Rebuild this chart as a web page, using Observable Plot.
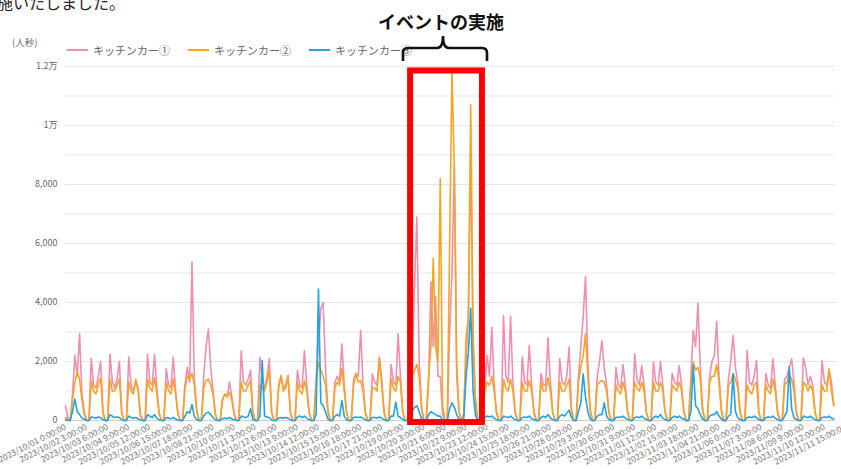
<!DOCTYPE html>
<html><head><meta charset="utf-8">
<script src="https://cdn.jsdelivr.net/npm/d3@7"></script>
<script src="https://cdn.jsdelivr.net/npm/@observablehq/plot@0.6"></script>
<style>
body{margin:0;background:#fff;font-family:"Noto Sans CJK JP","Noto Sans",sans-serif;}
#wrap{position:relative;width:841px;height:469px;overflow:hidden;background:#fff;}
#chart{position:absolute;left:0;top:0;}
.ov{position:absolute;white-space:nowrap;line-height:1;}
#legend{position:absolute;left:67px;top:43px;display:flex;gap:18px;font-size:11px;color:#666;line-height:14px;}
#legend .item{display:flex;align-items:center;gap:5px;}
#legend .sw{width:21px;height:2px;display:inline-block;}
</style></head><body>
<div id="wrap">
  <div id="chart"></div>
  <div class="ov" style="left:-3px;top:-6px;font-size:16px;color:#222;">施いたしました。</div>
  <div class="ov" style="left:12px;top:38px;font-size:9.5px;color:#666;">(人秒)</div>
  <div id="legend"></div>
  <div class="ov" id="title" style="left:378px;top:12px;font-size:18px;font-weight:bold;color:#111;">イベントの実施</div>
  <svg class="ov" style="left:0;top:0" width="841" height="80">
    <path d="M403,61 L403,53 Q403,48 408,48 L437,48 Q443,48 443,36 Q443,48 449,48 L482,48 Q487,48 487,53 L487,61" fill="none" stroke="#111" stroke-width="2.6"/>
  </svg>
</div>
<script>
// ---- data (3-hour samples from 2023/10/01 0:00, values in 人秒) ----
const seriesNames = ["キッチンカー①", "キッチンカー②", "キッチンカー③"];
const seriesColors = ["#f18db0", "#f7a520", "#22a4e0"];

const car1 = [
 500,100,0,900,2200,1500,2950,900,
 300,0,0,2100,1200,1100,1500,2000,
 300,0,0,2250,1300,1100,1400,2000,
 300,0,0,2150,1200,1000,1300,1100,
 200,0,0,2250,1300,1200,2250,1100,
 250,0,0,1750,1200,1100,2150,1000,
 250,0,0,1200,1800,1300,5370,1400,
 400,0,0,1500,2500,3100,1800,1000,
 200,0,0,700,900,800,1300,800,
 250,0,0,2350,1300,1200,1400,1700,
 300,0,0,2150,1400,1100,1500,2100,
 300,0,0,1200,1530,1100,1200,1530,
 300,0,0,1700,1200,1100,2370,1200,
 300,0,0,1500,2500,3800,4000,1800,
 400,0,0,1300,1500,1300,2600,1200,
 300,0,0,1400,1600,1500,3050,1300,
 300,0,0,1580,1300,1200,2150,1400,
 300,0,0,1900,1300,1200,2940,1500,
 300,0,0,1500,1800,4600,6900,2000,
 500,0,0,1200,4700,2500,4200,1500,
 1500,200,0,0,3000,5000,8600,1500,
 300,0,200,2000,3500,9200,2500,600,
 0,0,0,1200,2200,1500,3160,1200,
 300,0,0,3560,1500,1300,3540,1300,
 300,0,0,2150,1300,1200,2540,1200,
 300,0,0,1600,1200,1200,2800,1300,
 300,0,0,2090,1300,1200,1500,2490,
 400,0,0,1500,2500,3500,4880,2000,
 400,0,0,1500,2000,2700,1800,1200,
 300,0,0,1800,1200,1100,1900,1200,
 300,0,0,2260,1400,1200,1860,1200,
 300,0,0,1980,1300,1200,2000,1200,
 300,0,0,1600,1300,1200,1860,1200,
 300,0,0,1500,3050,2500,3980,1800,
 400,0,0,1500,2000,2200,3360,1500,
 400,0,0,1400,2000,2880,1800,1300,
 300,0,0,2370,1300,1200,1500,2030,
 300,0,0,1600,1200,1100,2090,1200,
 300,0,0,1400,1500,1800,2090,1300,
 300,0,0,2120,1800,1200,1500,1200,
 300,0,0,2030,1300,1200,1700,1300,
 500
];
const car2 = [
 100,50,0,700,1300,1650,1400,700,
 200,0,0,1350,1000,900,1200,1450,
 250,0,0,1400,1000,1000,1200,1400,
 250,0,0,1300,1000,900,1400,1000,
 150,0,0,1400,1100,1000,1450,900,
 200,0,0,1300,1000,900,1400,900,
 200,0,0,1100,1500,1400,1600,1200,
 300,0,0,1100,1350,1400,1200,900,
 200,0,0,700,900,800,950,700,
 200,0,0,1300,1000,1000,1200,1350,
 200,0,0,1200,1100,1000,1300,1700,
 250,0,0,1100,1500,1000,1100,1500,
 250,0,0,1300,1000,900,1350,1000,
 250,0,0,1200,1980,1700,1500,1200,
 300,0,0,1100,1300,1200,1750,1000,
 250,0,0,1200,1580,1300,1360,1000,
 250,0,0,1100,1100,1000,2100,1200,
 250,0,0,1400,1100,1000,1500,1300,
 250,0,0,1200,1500,1700,1900,1500,
 400,0,0,1500,2500,5500,2500,2000,
 8200,500,0,0,6000,11900,8500,2000,
 300,0,200,2800,3500,10700,3000,800,
 0,0,0,1000,1300,1200,1500,1000,
 250,0,0,1400,1100,1000,1400,1000,
 250,0,0,1300,1000,1000,1350,1000,
 250,0,0,1300,1000,1000,1450,1000,
 250,0,0,1300,1000,1000,1200,1400,
 300,0,0,1300,1800,2200,2940,1500,
 300,0,0,1200,1300,1360,1300,1000,
 250,0,0,1200,1000,900,1300,1000,
 250,0,0,1300,1100,1000,1300,1000,
 250,0,0,1300,1000,1000,1300,1000,
 250,0,0,1200,1100,1000,1300,1000,
 300,0,0,1300,1980,1700,1800,1400,
 300,0,0,1300,1500,1500,1900,1300,
 300,0,0,1200,1300,1580,1400,1100,
 250,0,0,1200,1000,900,1200,1300,
 250,0,0,1200,1000,900,1400,1000,
 250,0,0,1200,1300,1580,1400,1000,
 250,0,0,1300,1200,1000,1200,1000,
 250,0,0,1200,1000,1000,1750,1000,
 500
];
const car3 = [
 30,0,0,300,730,300,200,80,
 40,0,0,120,100,80,120,100,
 30,0,0,200,150,100,120,100,
 20,0,0,150,100,80,100,60,
 20,0,0,200,150,100,200,80,
 20,0,0,100,80,60,100,50,
 20,0,0,150,300,250,540,150,
 30,0,0,150,250,280,200,100,
 20,0,0,60,80,60,100,50,
 30,0,0,150,120,100,150,400,
 30,0,0,150,2030,150,120,100,
 20,0,0,80,100,80,100,80,
 20,0,0,120,150,100,150,80,
 30,0,0,200,4460,600,500,300,
 50,0,0,150,200,150,680,150,
 20,0,0,100,120,100,120,80,
 20,0,0,100,100,80,120,80,
 30,0,0,150,150,620,150,100,
 30,0,0,200,300,450,500,300,
 60,0,0,200,300,250,200,150,
 150,0,0,0,400,600,450,200,
 50,0,50,1500,2300,3800,1000,200,
 0,0,0,100,150,120,150,80,
 30,0,0,150,120,100,150,80,
 30,0,0,100,120,100,150,60,
 30,0,0,100,150,100,200,80,
 30,0,0,150,200,150,250,350,
 100,0,0,300,600,1580,800,300,
 50,0,0,150,200,200,600,150,
 30,0,0,100,120,100,150,80,
 30,0,0,100,120,100,150,80,
 30,0,0,100,150,100,200,80,
 30,0,0,100,150,100,150,80,
 50,0,0,300,1860,500,400,200,
 50,0,0,150,200,200,300,150,
 50,0,0,150,200,1580,300,100,
 30,0,0,100,120,100,150,100,
 30,0,0,100,120,100,150,80,
 30,0,0,150,300,1830,400,100,
 30,0,0,150,120,100,150,80,
 30,0,0,100,120,100,150,80,
 50
];
const stepHours = 3;

const xTickLabels = [
 "2023/10/01 0:00:00","2023/10/02 3:00:00","2023/10/03 6:00:00","2023/10/04 9:00:00",
 "2023/10/05 12:00:00","2023/10/06 15:00:00","2023/10/07 18:00:00","2023/10/08 21:00:00",
 "2023/10/10 0:00:00","2023/10/11 3:00:00","2023/10/12 6:00:00","2023/10/13 9:00:00",
 "2023/10/14 12:00:00","2023/10/15 15:00:00","2023/10/16 18:00:00","2023/10/17 21:00:00",
 "2023/10/19 0:00:00","2023/10/20 3:00:00","2023/10/21 6:00:00","2023/10/22 9:00:00",
 "2023/10/23 12:00:00","2023/10/24 15:00:00","2023/10/25 18:00:00","2023/10/26 21:00:00",
 "2023/10/28 0:00:00","2023/10/29 3:00:00","2023/10/30 6:00:00","2023/10/31 9:00:00",
 "2023/11/01 12:00:00","2023/11/02 15:00:00","2023/11/03 18:00:00","2023/11/04 21:00:00",
 "2023/11/06 0:00:00","2023/11/07 3:00:00","2023/11/08 6:00:00","2023/11/09 9:00:00",
 "2023/11/10 12:00:00","2023/11/11 15:00:00"
];
const xTickEvery = 27; // hours between labels
const yTicks = [0, 2000, 4000, 6000, 8000, 10000, 12000];
const yTickLabels = ["0", "2,000", "4,000", "6,000", "8,000", "1万", "1.2万"];
const yGrid = [0,1000,2000,3000,4000,5000,6000,7000,8000,9000,10000,11000,12000];
// event window (hours from start) and the box around it
const eventBox = {start: 442, end: 534, bottom: -70, top: 11850};

// ---- build ----
const toRows = vals => vals.map((v, i) => ({hour: i * stepHours, value: v}));
const rows = [car1, car2, car3].map(toRows);
const lastHour = (car1.length - 1) * stepHours;
const tickHours = xTickLabels.map((_, i) => i * xTickEvery);
const xLabelOf = new Map(tickHours.map((h, i) => [h, xTickLabels[i]]));
const yLabelOf = new Map(yTicks.map((v, i) => [v, yTickLabels[i]]));

const legend = document.getElementById("legend");
seriesNames.forEach((n, i) => {
  const it = document.createElement("div");
  it.className = "item";
  it.innerHTML = `<span class="sw" style="background:${seriesColors[i]}"></span><span>${n}</span>`;
  legend.appendChild(it);
});

const chart = Plot.plot({
  width: 841, height: 469,
  marginLeft: 65, marginRight: 0, marginTop: 66, marginBottom: 49,
  style: {fontFamily: '"Noto Sans CJK JP","Noto Sans",sans-serif', background: "transparent", overflow: "visible"},
  x: {type: "linear", domain: [0, tickHours[tickHours.length - 1]], range: [65, 845]},
  y: {domain: [0, 12000], range: [420, 66]},
  marks: [
    Plot.ruleY(yGrid, {y: d => d, x1: () => 0, x2: () => lastHour + 2, stroke: d => d === 0 ? "#cfcfcf" : "#e6e6e6", strokeWidth: 1}),
    ...rows.map((r, i) => Plot.line(r, {x: "hour", y: "value", stroke: seriesColors[i], strokeWidth: 1.6, strokeLinejoin: "round"})),
    Plot.rect([eventBox], {x1: "start", x2: "end", y1: "bottom", y2: "top", fill: "none", stroke: "#ff0000", strokeWidth: 6}),
    Plot.axisX({ticks: tickHours, tickFormat: h => xLabelOf.get(h), tickRotate: -27, tickSize: 0, tickPadding: 6, fontSize: 8.5, fill: "#777", label: null}),
    Plot.axisY({ticks: yTicks, tickFormat: v => yLabelOf.get(v), tickSize: 0, tickPadding: 8, fontSize: 9, fill: "#666", label: null})
  ]
});
document.getElementById("chart").appendChild(chart);
</script>
</body></html>
